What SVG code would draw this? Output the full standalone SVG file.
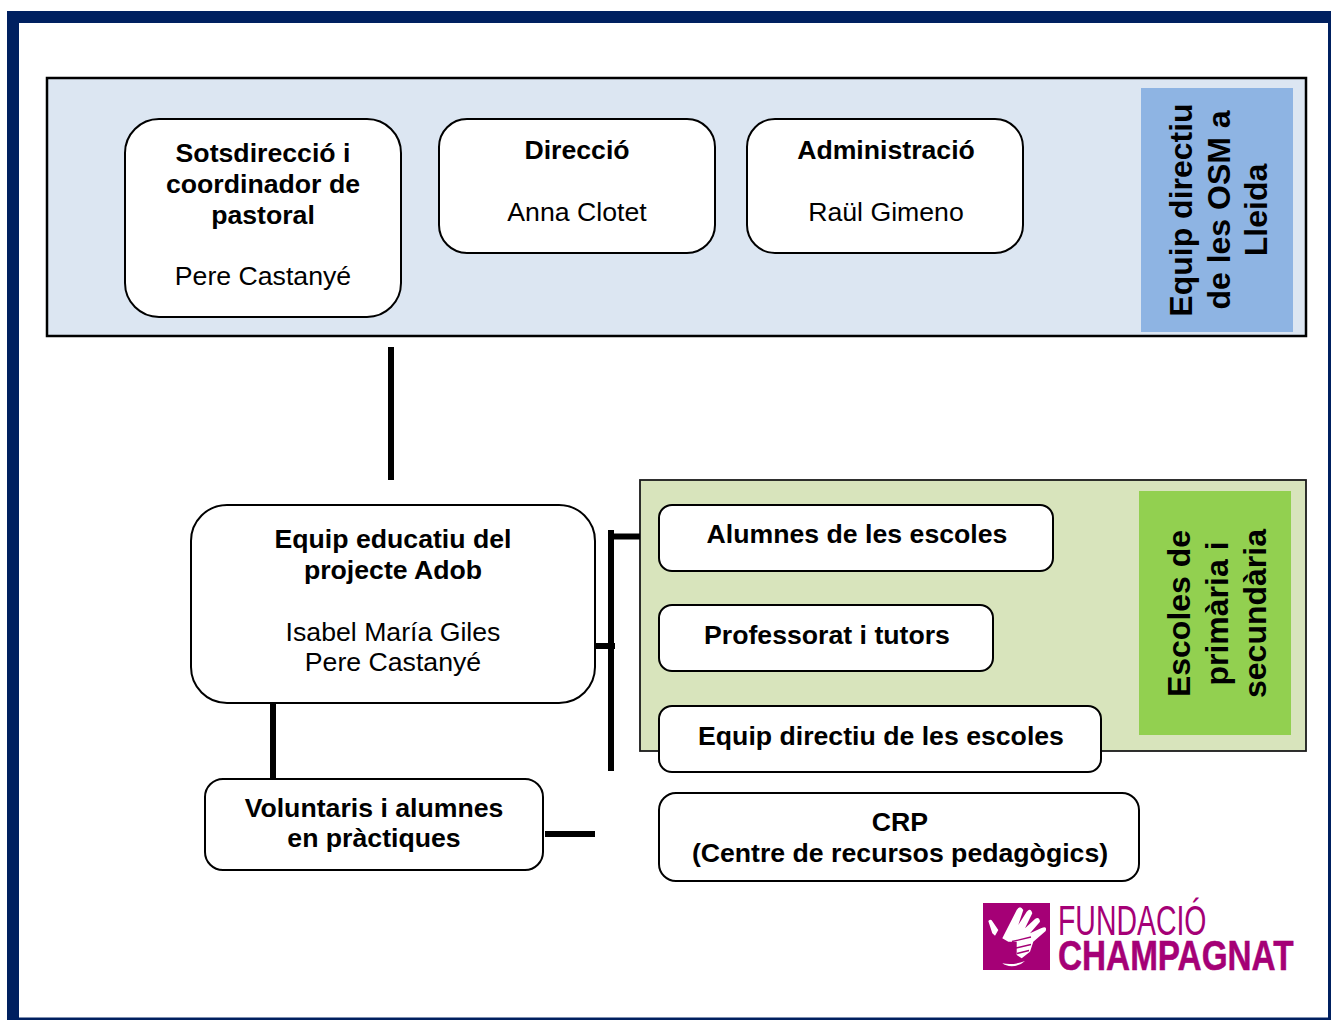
<svg xmlns="http://www.w3.org/2000/svg" width="1331" height="1020" viewBox="0 0 1331 1020">
<style>
text{font-family:"Liberation Sans",Arial,sans-serif;font-size:26.67px;fill:#000;text-anchor:middle}
.b{font-weight:bold}
.v{font-size:32px;font-weight:bold}
.box{fill:#fff;stroke:#000;stroke-width:2}
.conn{stroke:#000;stroke-width:6;fill:none}
.logo{fill:#a50076;text-anchor:start;font-size:42px}
.hand{fill:#fff}
.cut{fill:none;stroke:#a50076;stroke-width:1.3}
</style>
<rect width="1331" height="1020" fill="#fff"/>
<rect id="page-border" x="13" y="17" width="1321" height="1006.500" fill="none" stroke="#002060" stroke-width="12"/>
<g id="osm-panel">
<rect x="47" y="78" width="1259" height="258" fill="#dce6f2" stroke="#000" stroke-width="2.5"/>
<rect x="1141" y="88" width="152" height="244" fill="#8eb4e3"/>
<g transform="translate(1217 210) rotate(-90)"><text class="v" y="-25">Equip directiu</text><text class="v" y="13">de les OSM a</text><text class="v" y="50">Lleida</text></g>
</g>
<g id="schools-panel">
<rect x="640" y="480" width="666" height="271" fill="#d8e4bc" stroke="#1a1a1a" stroke-width="1.800"/>
<rect x="1139" y="491" width="152" height="244" fill="#92d050"/>
<g transform="translate(1215 613.500) rotate(-90)"><text class="v" y="-25">Escoles de</text><text class="v" y="13">primària i</text><text class="v" y="51">secundària</text></g>
</g>
<g id="connectors">
<path class="conn" d="M391 347V480"/>
<path class="conn" d="M611 530V771"/>
<path class="conn" d="M611 536.500H640"/>
<path class="conn" d="M595 646H615"/>
<path class="conn" d="M273 703V779"/>
<path class="conn" d="M545 834H595"/>
</g>
<g id="sotsdireccio">
<rect class="box" x="125" y="119" width="276" height="198" rx="34"/>
<text class="b" x="263" y="162">Sotsdirecció i</text><text class="b" x="263" y="193">coordinador de</text><text class="b" x="263" y="224">pastoral</text><text x="263" y="285">Pere Castanyé</text>
</g>
<g id="direccio">
<rect class="box" x="439" y="119" width="276" height="134" rx="28"/>
<text class="b" x="577" y="159">Direcció</text><text x="577" y="221">Anna Clotet</text>
</g>
<g id="administracio">
<rect class="box" x="747" y="119" width="276" height="134" rx="28"/>
<text class="b" x="886" y="159">Administració</text><text x="886" y="221">Raül Gimeno</text>
</g>
<g id="equip-educatiu">
<rect class="box" x="191" y="505" width="404" height="198" rx="36"/>
<text class="b" x="393" y="548">Equip educatiu del</text><text class="b" x="393" y="579">projecte Adob</text><text x="393" y="641">Isabel María Giles</text><text x="393" y="671">Pere Castanyé</text>
</g>
<g id="voluntaris">
<rect class="box" x="205" y="779" width="338" height="91" rx="18"/>
<text class="b" x="374" y="817">Voluntaris i alumnes</text><text class="b" x="374" y="847">en pràctiques</text>
</g>
<g id="alumnes">
<rect class="box" x="659" y="505" width="394" height="66" rx="13"/>
<text class="b" x="857" y="543">Alumnes de les escoles</text>
</g>
<g id="professorat">
<rect class="box" x="659" y="605" width="334" height="66" rx="13"/>
<text class="b" x="827" y="644">Professorat i tutors</text>
</g>
<g id="equip-directiu">
<rect class="box" x="659" y="706" width="442" height="66" rx="13"/>
<text class="b" x="881" y="745">Equip directiu de les escoles</text>
</g>
<g id="crp">
<rect class="box" x="659" y="793" width="480" height="88" rx="17"/>
<text class="b" x="900" y="831">CRP</text><text class="b" x="900" y="862">(Centre de recursos pedagògics)</text>
</g>
<g id="logo">
<rect x="983" y="903" width="67" height="67" fill="#a50076"/>
<path class="hand" d="M1002.300 938.300L1016.700 910Q1020 904.500 1023.300 910L1018.300 925L1026.700 911.700Q1030.700 907 1032.300 913.300L1025 928.300L1035 919Q1039.300 916 1040 921.700L1030 933.300L1041 928.300Q1047.500 925 1045.700 931L1033.300 941.700L1030 951.700L1021.700 958.300L1016.700 955V941.700H1008.300Z"/>
<path class="cut" d="M1012 941.500L1031 937M1016 948L1031 944.500M1017 953.500L1029 950.500"/>
<path class="hand" d="M1002.300 963.300Q1013 965.700 1025 961Q1020 966 1011.700 966.300Q1005.700 966 1002.300 963.300Z"/>
<path class="hand" d="M988.300 921Q991 918 992.700 921.700L998.300 930L995 935.700L992.300 933.300Z"/>
<text class="logo" transform="translate(1058 935) scale(.677 1)">FUNDACIÓ</text>
<text class="logo b" transform="translate(1058 970) scale(.793 1)" stroke="#a50076" stroke-width=".5">CHAMPAGNAT</text>
</g>
</svg>
